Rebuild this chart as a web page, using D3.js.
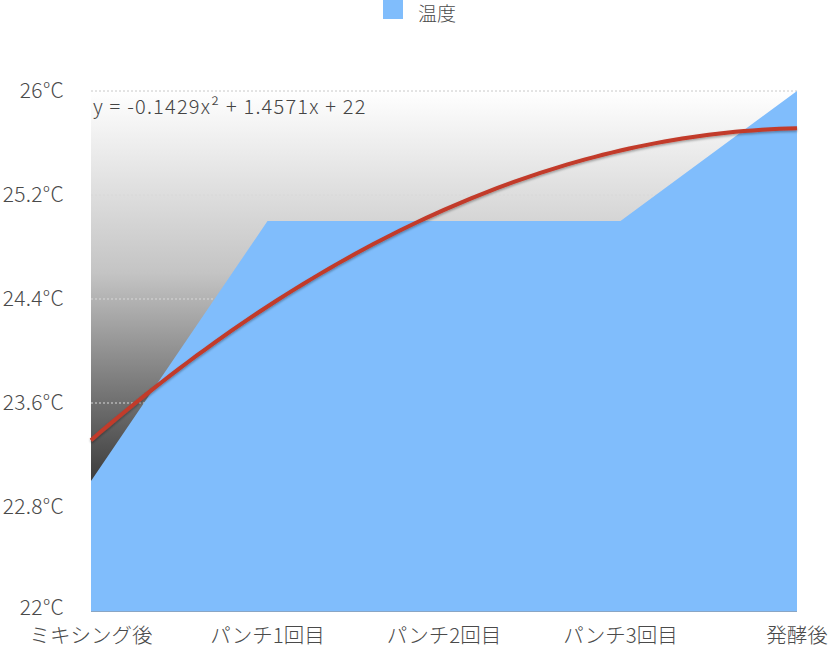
<!DOCTYPE html>
<html>
<head>
<meta charset="utf-8">
<script src="https://cdn.jsdelivr.net/npm/d3@7"></script>
<style>
  body { margin: 0; background: #fff; }
  text { font-family: "Noto Sans CJK JP", "Noto Sans", sans-serif; font-weight: 300; fill: #4a4a4a; }
</style>
</head>
<body>
<svg id="chart" width="829" height="651"></svg>
<script>
// data
const categories = ["ミキシング後", "パンチ1回目", "パンチ2回目", "パンチ3回目", "発酵後"];
const temps = [23.0, 25.0, 25.0, 25.0, 26.0];
const yTicks = [22, 22.8, 23.6, 24.4, 25.2, 26];
// trendline y = a x^2 + b x + c (x = 1..5)
const trendCoef = [-0.1429, 1.4571, 22];
const trendLabel = "y = -0.1429x² + 1.4571x + 22";
const seriesName = "温度";

const svg = d3.select("#chart");
const plotL = 91, plotR = 797, plotT = 91, plotB = 611;

let x = d3.scalePoint().domain(categories).range([plotL, plotR]);
let y = d3.scaleLinear().domain([22, 26]).range([plotB, plotT]);

// gradient backdrop
let defs = svg.append("defs");
let grad = defs.append("linearGradient").attr("id", "bg")
    .attr("x1", 0).attr("x2", 0).attr("y1", 0).attr("y2", 1);
grad.append("stop").attr("offset", "0%").attr("stop-color", "#ffffff");
grad.append("stop").attr("offset", "35%").attr("stop-color", "#c4c4c4");
grad.append("stop").attr("offset", "75%").attr("stop-color", "#3c3c3c");
grad.append("stop").attr("offset", "100%").attr("stop-color", "#111111");
let shadow = defs.append("filter").attr("id", "sh").attr("x", "-5%").attr("y", "-20%").attr("width", "110%").attr("height", "140%");
shadow.append("feDropShadow").attr("dx", 0).attr("dy", 1.5).attr("stdDeviation", 1.2)
    .attr("flood-color", "#000").attr("flood-opacity", 0.35);

svg.append("rect").attr("x", plotL).attr("y", y(26)).attr("width", plotR - plotL).attr("height", y(22) - y(26))
    .attr("fill", "url(#bg)");

// gridlines
svg.selectAll("line.grid").data(yTicks.filter(d => d > 22)).join("line").attr("class", "grid")
    .attr("x1", plotL).attr("x2", plotR).attr("y1", d => y(d)).attr("y2", d => y(d))
    .attr("stroke", d => d === 26 ? "#c8c8c8" : "#d8d8d8").attr("stroke-width", 1).attr("stroke-dasharray", "2,2");

// area
let area = d3.area().x((d, i) => x(categories[i])).y0(y(22)).y1(d => y(d));
svg.append("path").datum(temps).attr("d", area).attr("fill", "#80bdfc");
svg.append("line").attr("x1", plotL).attr("x2", plotR).attr("y1", y(22) + 0.5).attr("y2", y(22) + 0.5)
    .attr("stroke", "#8aa6c4").attr("stroke-width", 1);

// trendline
let tx = d3.scaleLinear().domain([1, categories.length]).range([plotL, plotR]);
let trendPts = d3.range(1, categories.length + 0.001, 0.05)
    .map(v => [tx(v), y(trendCoef[0] * v * v + trendCoef[1] * v + trendCoef[2])]);
svg.append("path").attr("d", d3.line()(trendPts)).attr("fill", "none")
    .attr("stroke", "#c23a2a").attr("stroke-width", 4).attr("stroke-linecap", "butt")
    .attr("filter", "url(#sh)");

svg.append("text").attr("x", 93).attr("y", 114).attr("font-size", 20)
    .attr("letter-spacing", 1.2).style("fill", "#444")
    .text(trendLabel);

// y axis labels
svg.selectAll("text.ylab").data(yTicks).join("text").attr("class", "ylab")
    .attr("x", 64).attr("y", d => y(d) + (d === 22 ? 4 : 7)).attr("text-anchor", "end")
    .attr("font-size", 21).attr("letter-spacing", 0.3).text(d => d + "°C");

// x axis labels
svg.selectAll("text.xlab").data(categories).join("text").attr("class", "xlab")
    .attr("x", d => x(d)).attr("y", 643).attr("text-anchor", "middle")
    .attr("font-size", 20.5).text(d => d);

// legend
svg.append("rect").attr("x", 383).attr("y", 0).attr("width", 20).attr("height", 19).attr("fill", "#80bdfc");
svg.append("text").attr("x", 418).attr("y", 21).attr("font-size", 19).text(seriesName);
</script>
</body>
</html>
